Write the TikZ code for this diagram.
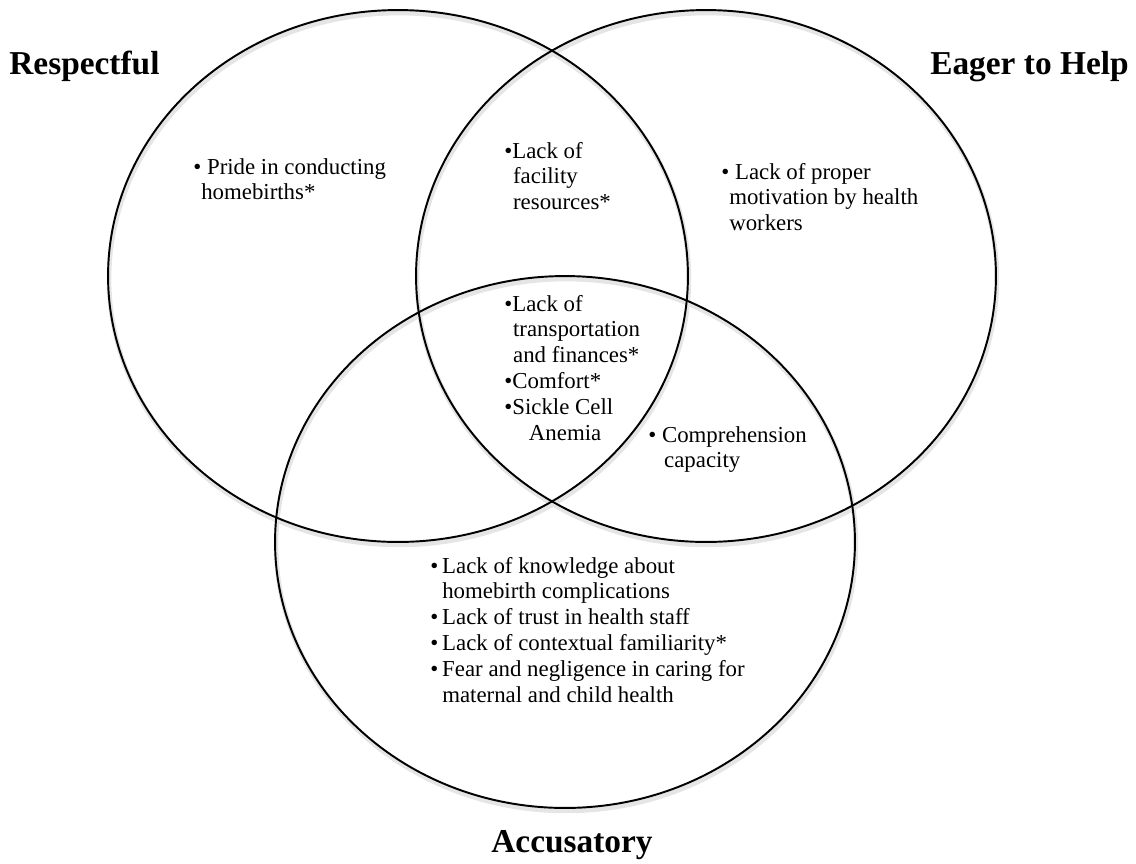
\documentclass[tikz,border=0pt]{standalone}
\usepackage{fontspec}
\setmainfont{Liberation Serif}
\usepackage{xcolor}
\usepackage{tikz}
\usetikzlibrary{shapes.geometric}

\begin{document}
\begin{tikzpicture}[x=0.02cm, y=-0.02cm]
    % Define styles
    \tikzset{
        group/.style={ellipse, draw, line width=1.1pt, minimum width=11.6cm, minimum height=10.64cm, inner sep=0pt},
        group_shadow/.style={group, draw=black!10, line width=2.6pt},
        heading/.style={font=\fontsize{19}{23}\selectfont\bfseries, inner sep=0pt},
        factor/.style={anchor=base west, inner sep=0pt, font=\fontsize{13}{14.7}\selectfont}
    }

    \useasboundingbox (0,0) rectangle (1136,863);

    % Soft shadows under the outlines
    \node[group_shadow] (respectful_shadow) at (399,279) {};
    \node[group_shadow] (eager_shadow) at (707,279) {};
    \node[group_shadow] (accusatory_shadow) at (566,545) {};

    % Sets
    \node[group] (respectful_set) at (398,276) {};
    \node[group] (eager_set) at (706,276) {};
    \node[group] (accusatory_set) at (565,542) {};

    % Set names
    \node[heading, anchor=base west] (respectful_name) at (9,74) {Respectful};
    \node[heading, anchor=base east] (eager_name) at (1129,74) {Eager to Help};
    \node[heading, anchor=base] (accusatory_name) at (572,852) {Accusatory};

    % Factors, one block per region
    \node[factor] (pride) at (193,174) {\parbox[t]{6cm}{\textbullet\ Pride in conducting\\\hspace*{4.5pt}homebirths*}};
    \node[factor] (facility) at (504,158) {\parbox[t]{4cm}{\textbullet Lack of\\\hspace*{5pt}facility\\\hspace*{5pt}resources*}};
    \node[factor] (motivation) at (721,179) {\parbox[t]{6cm}{\textbullet\ Lack of proper\\\hspace*{4.5pt}motivation by health\\\hspace*{4.5pt}workers}};
    \node[factor] (transport) at (504,311) {\parbox[t]{4cm}{\textbullet Lack of\\\hspace*{5pt}transportation\\\hspace*{5pt}and finances*\\\textbullet Comfort*\\\textbullet Sickle Cell\\\hspace*{14pt}Anemia}};
    \node[factor] (comprehension) at (648,442) {\parbox[t]{5cm}{\textbullet\ Comprehension\\\hspace*{9pt}capacity}};
    \node[factor] (knowledge) at (430,573) {\parbox[t]{7cm}{\textbullet\hspace{2.2pt}Lack of knowledge about\\\hspace*{6.8pt}homebirth complications\\\textbullet\hspace{2.2pt}Lack of trust in health staff\\\textbullet\hspace{2.2pt}Lack of contextual familiarity*\\\textbullet\hspace{2.2pt}Fear and negligence in caring for\\\hspace*{6.8pt}maternal and child health}};
\end{tikzpicture}
\end{document}
